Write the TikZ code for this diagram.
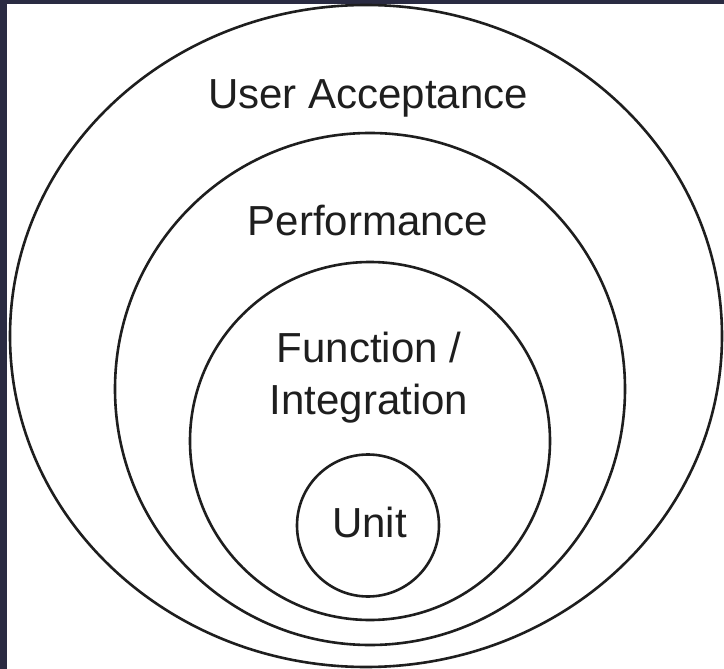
\documentclass[tikz,border=0pt]{standalone}
\usepackage{fontspec}
\setmainfont{Liberation Sans}
\definecolor{frame}{HTML}{2A2B42}
\definecolor{ink}{HTML}{1E1E1E}
\tikzset{
  ring/.style = {draw = ink, line width = 1.3pt},
  level/.style = {text = ink, font = \fontsize{21}{26}\selectfont, inner sep = 0pt, align = center}
}
\begin{document}
\begin{tikzpicture}[x = 0.5pt, y = -0.5pt]
\useasboundingbox (0,0) rectangle (724,669);
\fill[frame] (0,0) rectangle (724,669);
\fill[white] (7,4) rectangle (724,669);
% rings, outside in
\draw[ring] (366,336) ellipse [x radius = 178pt, y radius = 165.5pt];
\draw[ring] (370,389) ellipse [x radius = 127.5pt, y radius = 128pt];
\draw[ring] (370,441) ellipse [x radius = 90pt, y radius = 89.5pt];
\draw[ring] (368,525.5) circle [radius = 35.5pt];
% labels
\node[level, anchor = base] (user) at (368,108) {User Acceptance};
\node[level, anchor = base] (perf) at (368,235) {Performance};
\node[level] (func) at (369,378) {Function /\\Integration};
\node[level, anchor = base] (unit) at (369.5,537) {Unit};
\end{tikzpicture}
\end{document}
